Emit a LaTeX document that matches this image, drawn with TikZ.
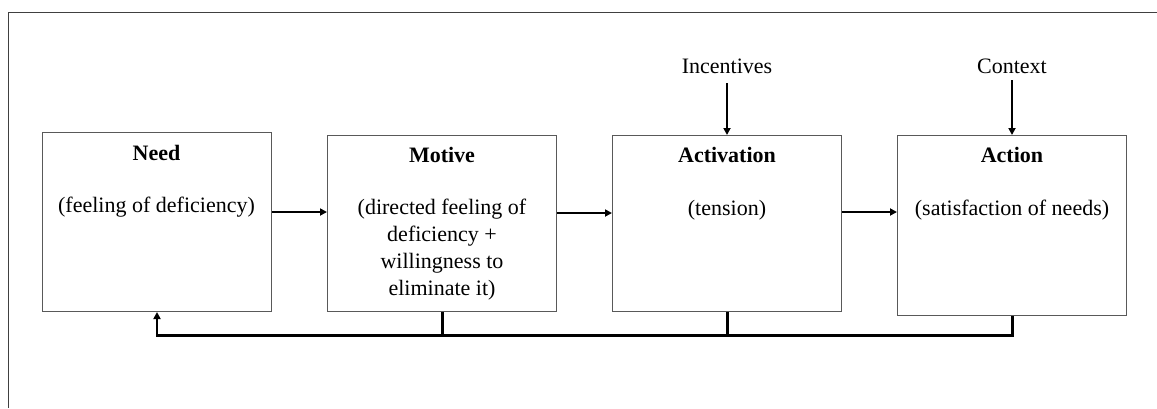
\documentclass[tikz,border=0pt]{standalone}
\usepackage{fontspec}
\setmainfont{Liberation Serif}
\usetikzlibrary{arrows.meta}
\begin{document}
\begin{tikzpicture}[x=1pt,y=-1pt,
  box/.style={draw=black!65,line width=1pt,minimum width=229pt,inner sep=0pt,anchor=north west},
  ttl/.style={font=\fontsize{22}{26.5}\selectfont\bfseries,anchor=base,inner sep=0pt},
  txt/.style={font=\fontsize{22}{26.7}\selectfont,anchor=base,inner sep=0pt,align=center},
  arr/.style={line width=2.2pt,-{Triangle[length=7pt,width=7pt]}},
  fb/.style={line width=3pt}]
\useasboundingbox (0,0) rectangle (1157,408);
\draw[line width=1pt,black!75] (8,408) -- (8,12) -- (1157,12);
% boxes
\node[box,minimum height=179pt] (need) at (42,132) {};
\node[box,minimum height=176pt] (motive) at (327,135) {};
\node[box,minimum height=176pt] (activ) at (612,135) {};
\node[box,minimum height=180pt] (action) at (897,135) {};
% texts
\node[ttl] (needT) at (156.5,160) {Need};
\node[txt] (needS) at (156.5,212) {(feeling of deficiency)};
\node[ttl] (motT) at (442,162) {Motive};
\node[txt] (motS) at (442,295) {(directed feeling of\\deficiency +\\willingness to\\eliminate it)};
\node[ttl] (actT) at (727,162) {Activation};
\node[txt] (actS) at (727,215) {(tension)};
\node[ttl] (acnT) at (1012,162) {Action};
\node[txt] (acnS) at (1012,215) {(satisfaction of needs)};
\node[txt] (inc) at (727,73) {Incentives};
\node[txt] (ctx) at (1012,73) {Context};
% arrows
\draw[arr] (need.east |- 0,212) -- (motive.west |- 0,212);
\draw[arr] (motive.east |- 0,213) -- (activ.west |- 0,213);
\draw[arr] (activ.east |- 0,212) -- (action.west |- 0,212);
\coordinate (incA) at (727,83);
\coordinate (ctxA) at (1012,80);
\draw[arr] (incA) -- (activ.north);
\draw[arr] (ctxA) -- (action.north);
% feedback
\coordinate (fbR) at (1012,335);
\path (fbR -| need.south) coordinate (fbL);
\draw[fb] (action.south) -- (fbR) -- ([xshift=-1pt]fbL);
\draw[arr] ([yshift=1.5pt]fbL) -- (need.south);
\draw[fb] (motive.south) -- (motive.south |- fbR);
\draw[fb] (activ.south) -- (activ.south |- fbR);
\end{tikzpicture}
\end{document}
